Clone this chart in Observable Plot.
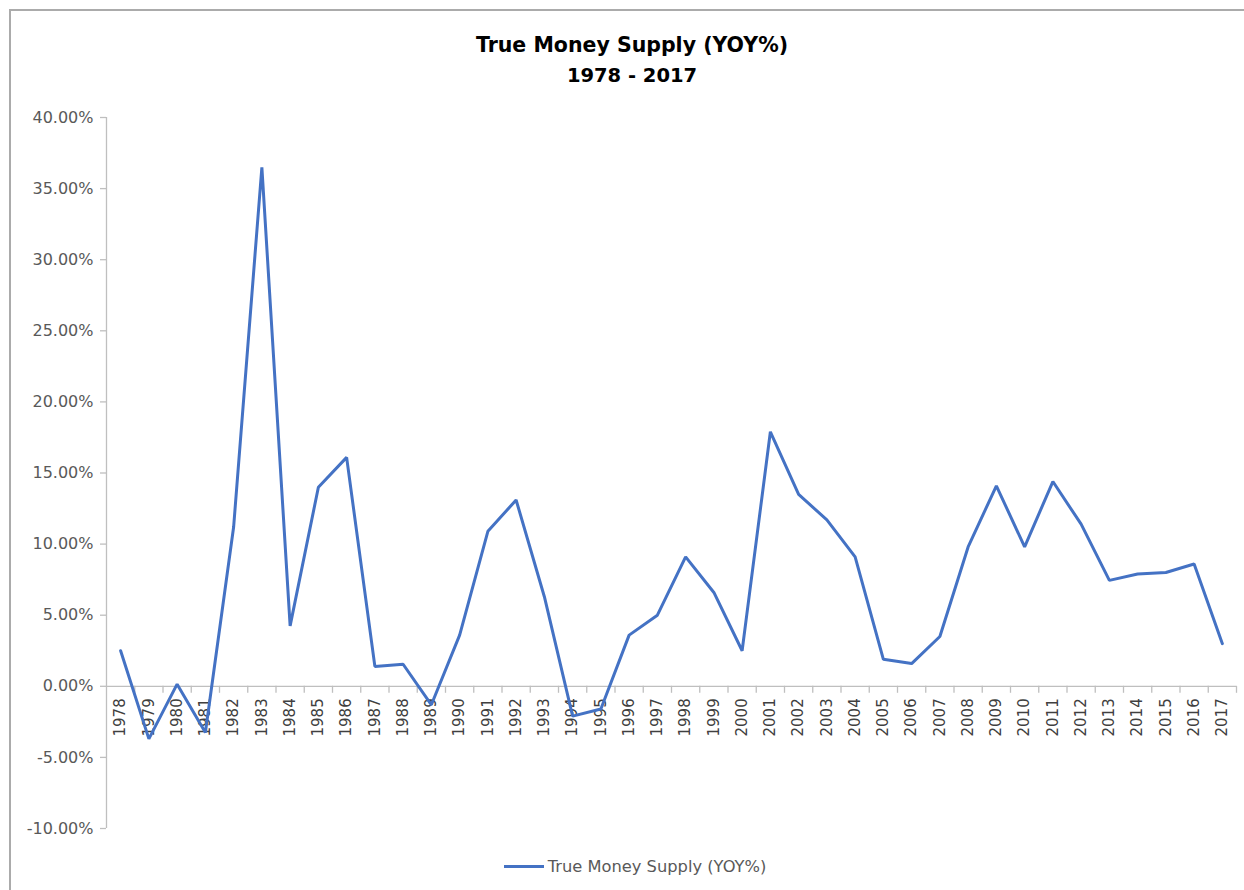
<!DOCTYPE html>
<html>
<head>
<meta charset="utf-8">
<script src="https://cdn.jsdelivr.net/npm/d3@7"></script>
<script src="https://cdn.jsdelivr.net/npm/@observablehq/plot@0.6"></script>
<style>
  html, body { margin: 0; padding: 0; background: #fff; }
  #wrap { position: relative; width: 1244px; height: 890px; overflow: hidden; font-family: "DejaVu Sans", sans-serif; }
  #frame { position: absolute; left: 9px; top: 9px; width: 1300px; height: 950px; border-top: 2px solid #ababab; border-left: 2px solid #ababab; }
  #title { position: absolute; left: 10px; width: 1244px; top: 30px; text-align: center; font-weight: bold; color: #000; }
  #title .l1 { font-size: 20.5px; line-height: 31px; }
  #title .l2 { font-size: 19.5px; line-height: 29px; }
  #chart { position: absolute; left: 0; top: 100px; }
  #legend { position: absolute; left: 13px; width: 1244px; top: 857px; display: flex; justify-content: center; align-items: center; font-size: 16.3px; color: #595959; }
  #legend .sw { width: 40px; height: 3px; background: #4472C4; margin-right: 4px; }
</style>
</head>
<body>
<div id="wrap">
  <div id="frame"></div>
  <div id="title"><div class="l1">True Money Supply (YOY%)</div><div class="l2">1978 - 2017</div></div>
  <div id="chart"></div>
  <div id="legend"><div class="sw"></div><div>True Money Supply (YOY%)</div></div>
</div>
<script>
const years = [1978,1979,1980,1981,1982,1983,1984,1985,1986,1987,1988,1989,1990,1991,1992,1993,1994,1995,1996,1997,1998,1999,2000,2001,2002,2003,2004,2005,2006,2007,2008,2009,2010,2011,2012,2013,2014,2015,2016,2017];
const values = [2.5,-3.7,0.15,-3.25,11.2,36.5,4.25,14.0,16.1,1.4,1.55,-1.3,3.6,10.9,13.1,6.3,-2.1,-1.6,3.6,5.0,9.1,6.6,2.5,17.9,13.5,11.7,9.1,1.9,1.6,3.5,9.8,14.1,9.8,14.4,11.4,7.45,7.9,8.0,8.6,3.0];
const yTicks = [-10,-5,0,5,10,15,20,25,30,35,40];
const seriesName = "True Money Supply (YOY%)";

const data = years.map((year, i) => ({year, value: values[i]}));
const xDomain = [years[0] - 0.5, years[years.length - 1] + 0.5];
const yDomain = [yTicks[0], yTicks[yTicks.length - 1]];
const boundaries = years.map(y => y + 0.5);

const axisColor = "#bfbfbf";
const textColor = "#595959";

const chart = Plot.plot({
  width: 1244,
  height: 760,
  marginTop: 17,
  marginBottom: 32,
  marginLeft: 106,
  marginRight: 8,
  style: {fontFamily: "DejaVu Sans, sans-serif", fontSize: "16px", background: "transparent"},
  x: {domain: xDomain, axis: null},
  y: {domain: yDomain, axis: null},
  marks: [
    Plot.axisY({ticks: yTicks, tickFormat: d => d.toFixed(2) + "%", tickSize: 0, tickPadding: 13, fontSize: 16, fill: textColor, color: textColor, label: null}),
    Plot.ruleY(yTicks, {x1: xDomain[0], x2: xDomain[0], insetLeft: -6, stroke: axisColor, strokeWidth: 1.3}),
    Plot.ruleX([xDomain[0]], {y1: yDomain[0], y2: yDomain[1], stroke: axisColor, strokeWidth: 1.3}),
    Plot.ruleY([0], {stroke: axisColor, strokeWidth: 1.3}),
    Plot.ruleX(boundaries, {y1: 0, y2: 0, insetBottom: -7, stroke: axisColor, strokeWidth: 1.3}),
    Plot.text(years, {x: d => d, y: 0, text: d => String(d), rotate: -90, textAnchor: "end", dy: 12, fontSize: 15, fill: "#404040"}),
    Plot.line(data, {x: "year", y: "value", stroke: "#4472C4", strokeWidth: 3, strokeLinejoin: "miter"})
  ]
});
document.getElementById("chart").appendChild(chart);
</script>
</body>
</html>
